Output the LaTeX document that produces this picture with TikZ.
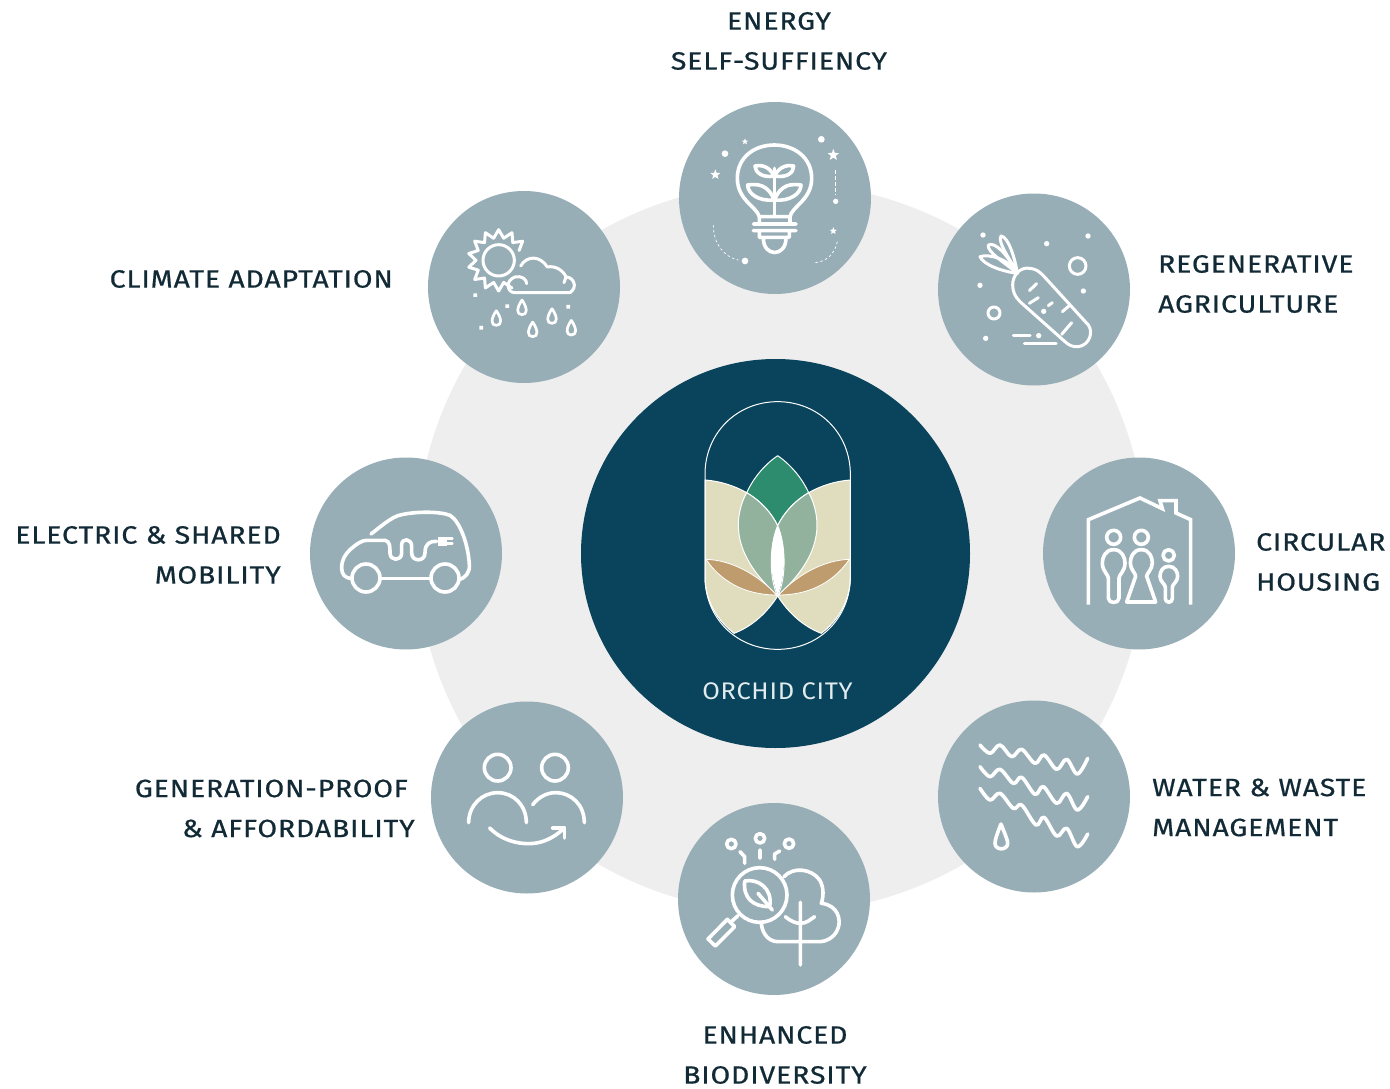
\documentclass[tikz,border=0pt]{standalone}
\usepackage{fontspec}
\usetikzlibrary{shapes.geometric}
\setmainfont{Fira Sans}
\newfontfamily\labfont[LetterSpace=3.5,FakeBold=0.7,FakeStretch=1.135]{Fira Sans}
\newfontfamily\cityfont[LetterSpace=3,FakeStretch=1.06]{Fira Sans}
\definecolor{ringgrey}{HTML}{EEEEEE}
\definecolor{deepblue}{HTML}{09435C}
\definecolor{satblue}{HTML}{98AEB7}
\definecolor{labelink}{HTML}{122A36}
\definecolor{petalbeige}{HTML}{E0DDBE}
\definecolor{petalsage}{HTML}{92B29E}
\definecolor{petalgreen}{HTML}{2D8C6E}
\definecolor{petaltan}{HTML}{BF9C6E}
\tikzset{
  sat/.style={circle,fill=satblue,minimum size=192pt,inner sep=0pt},
  ic/.style={draw=white,line width=3.6pt,line cap=round,line join=round},
  icthin/.style={draw=white,line width=2.7pt,line cap=round,line join=round},
  icmid/.style={draw=white,line width=3pt,line cap=round,line join=round},
  dashthin/.style={draw=white,line width=0.7pt,dash pattern=on 2.5pt off 2.5pt},
  blob/.style={fill=white},
  petal/.style={draw=white,line width=1pt,line join=round},
  lab/.style={inner sep=0pt,text=labelink,font=\labfont\fontsize{25}{40}\selectfont},
  starn/.style={star,star points=5,star point ratio=2.3,fill=white,inner sep=0pt,minimum size=#1},
}
\newcommand{\drawdrop}[2]{\draw[icthin] (#1,{#2-22}) .. controls ({#1-17},{#2+3}) and ({#1-17},{#2+22}) .. (#1,{#2+22}) .. controls ({#1+17},{#2+22}) and ({#1+17},{#2+3}) .. (#1,{#2-22});}
\begin{document}
\begin{tikzpicture}[x=1pt,y=-1pt]
\useasboundingbox (0,0) rectangle (1390,1089);
\node[circle,fill=ringgrey,minimum size=730pt,inner sep=0pt] (ring) at (781,548) {};
\node[circle,fill=deepblue,minimum size=389pt,inner sep=0pt] (hub) at (775.5,553.5) {};

% ---- logo
\begin{scope}[shift={(680,380)},scale=1/3]
  \path[petal,fill=petalbeige] (75,300) .. controls (120,303) and (165,318) .. (200,338) .. controls (165,400) and (165,520) .. (293,648) .. controls (260,700) and (215,740) .. (162,760) .. controls (110,720) and (75,660) .. (75,590) -- cycle;
  \path[petal,fill=petalbeige] (511,300) .. controls (466,303) and (421,318) .. (386,338) .. controls (421,400) and (421,520) .. (293,648) .. controls (326,700) and (371,740) .. (424,760) .. controls (476,720) and (511,660) .. (511,590) -- cycle;
  \path[petal,fill=petalgreen] (293,227) .. controls (245,260) and (215,305) .. (200,338) .. controls (245,365) and (275,400) .. (293,437) .. controls (311,400) and (341,365) .. (386,338) .. controls (371,305) and (341,260) .. (293,227) -- cycle;
  \path[petal,fill=petalsage] (200,338) .. controls (245,365) and (275,400) .. (293,437) .. controls (270,490) and (265,590) .. (293,648) .. controls (230,590) and (175,520) .. (175,435) .. controls (175,400) and (185,365) .. (200,338) -- cycle;
  \path[petal,fill=petalsage] (386,338) .. controls (341,365) and (311,400) .. (293,437) .. controls (316,490) and (321,590) .. (293,648) .. controls (356,590) and (411,520) .. (411,435) .. controls (411,400) and (401,365) .. (386,338) -- cycle;
  \path[fill=white] (293,437) .. controls (265,500) and (270,590) .. (293,645) .. controls (316,590) and (321,500) .. (293,437) -- cycle;
  \path[fill=petaltan,draw=white,line width=0.8pt] (78,538) .. controls (150,540) and (230,580) .. (290,645) .. controls (190,645) and (120,600) .. (78,538) -- cycle;
  \path[fill=petaltan,draw=white,line width=0.8pt] (508,538) .. controls (436,540) and (356,580) .. (296,645) .. controls (396,645) and (466,600) .. (508,538) -- cycle;
  \draw[petal] (75,300) -- (75,283) .. controls (75,160) and (170,65) .. (293,65) .. controls (416,65) and (511,160) .. (511,283) -- (511,590) .. controls (511,715) and (416,808) .. (293,808) .. controls (170,808) and (75,715) .. (75,590) -- cycle;
\end{scope}
\node[inner sep=0pt,text={rgb,255:red,226;green,235;blue,238},font=\cityfont\fontsize{24}{24}\selectfont] (city) at (777.5,691) {ORCHID CITY};

% ---- satellites
\node[sat] (energy) at (775,198) {};
\node[sat] (agri) at (1034,289.5) {};
\node[sat] (housing) at (1139,553.5) {};
\node[sat] (water) at (1034,796.5) {};
\node[sat] (bio) at (774,899) {};
\node[sat] (gen) at (527,797.5) {};
\node[sat] (mob) at (406,553.5) {};
\node[sat] (climate) at (524,287) {};

% ---- bulb
\begin{scope}[shift={(680,100)},scale=1/3]
  \draw[ic] (238,350) .. controls (230,320) and (172,300) .. (172,235) .. controls (172,170) and (225,135) .. (283,135) .. controls (340,135) and (395,170) .. (395,235) .. controls (395,300) and (335,320) .. (330,350) -- cycle;
  \draw[ic] (220,372) -- (348,372) (220,392) -- (348,392) (238,350) -- (238,372) (330,350) -- (330,372) (238,392) -- (238,412) -- (328,412) -- (328,392) (250,414) .. controls (250,472) and (318,472) .. (318,414);
  \draw[ic] (283,345) -- (283,205);
  \draw[ic] (283,228) .. controls (265,195) and (240,195) .. (225,198) .. controls (225,215) and (245,235) .. (283,228) .. controls (325,235) and (341,215) .. (341,198) .. controls (326,195) and (301,195) .. (283,228);
  \draw[ic] (283,300) .. controls (262,250) and (230,252) .. (203,255) .. controls (203,280) and (235,305) .. (283,300) .. controls (331,305) and (363,280) .. (363,255) .. controls (336,252) and (304,250) .. (283,300);
  \fill[blob] (135,161) circle[radius=10] (424,118) circle[radius=10] (467,304) circle[radius=8] (195,483) circle[radius=10];
  \node[starn=6.5pt] (s1) at (195,125) {};
  \node[starn=12pt] (s2) at (460,165) {};
  \node[starn=10.5pt] (s3) at (106,224) {};
  \node[starn=7.5pt] (s4) at (460,393) {};
  \draw[dashthin,line width=1pt,dash pattern=on 4pt off 2pt] (466,210) -- (466,285);
  \draw[dashthin] (100,375) .. controls (100,430) and (130,470) .. (175,480);
  \draw[dashthin] (472,425) .. controls (465,460) and (440,485) .. (405,488);
\end{scope}

% ---- carrot
\begin{scope}[shift={(940,195)},scale=1/3]
  \draw[icmid] (218,270) .. controls (218,240) and (240,215) .. (270,220) .. controls (290,222) and (300,232) .. (310,242) -- (445,390) .. controls (460,410) and (450,450) .. (415,455) .. controls (400,457) and (385,450) .. (375,440) -- (240,320) .. controls (225,305) and (218,290) .. (218,270);
  \draw[icmid] (268,287) -- (290,266) (268,325) -- (295,308) (325,332) -- (337,323) (367,350) -- (388,332) (365,418) -- (395,383);
  \draw[icmid] (232,235) .. controls (190,230) and (130,210) .. (120,185) .. controls (150,175) and (210,195) .. (232,235);
  \draw[icmid] (232,235) .. controls (190,200) and (140,170) .. (145,150) .. controls (165,140) and (200,175) .. (232,235);
  \draw[icmid] (232,235) .. controls (215,200) and (170,140) .. (183,123) .. controls (205,125) and (225,190) .. (232,235);
  \fill[blob] (129,120) circle[radius=8] (320,146) circle[radius=8] (444,123) circle[radius=8] (120,271) circle[radius=8] (430,288) circle[radius=8] (137,430) circle[radius=8] (311,349) circle[radius=8] (296,422) circle[radius=8];
  \draw[icmid] (413,213) circle[radius=25] (162,354) circle[radius=18];
  \draw[icmid] (220,422) -- (270,422) (253,447) -- (348,447);
\end{scope}

% ---- house
\begin{scope}[shift={(1045,458)},scale=1/3]
  \draw[draw=white,line width=3.6pt,line join=miter] (130,440) -- (130,185) -- (285,120) -- (352,152) -- (345,128) -- (393,128) -- (393,165) -- (437,185) -- (437,440);
  \draw[ic] (206,238) circle[radius=21] (289,238) circle[radius=21] (371,292) circle[radius=17];
  \draw[ic] (206,275) .. controls (180,275) and (172,300) .. (172,315) .. controls (172,340) and (190,350) .. (190,360) -- (190,420) .. controls (190,438) and (222,438) .. (222,420) -- (222,360) .. controls (222,350) and (240,340) .. (240,315) .. controls (240,300) and (232,275) .. (206,275);
  \draw[ic] (289,275) .. controls (263,275) and (256,300) .. (256,315) .. controls (256,335) and (272,345) .. (272,355) -- (245,432) -- (332,432) -- (305,355) .. controls (305,345) and (322,335) .. (322,315) .. controls (322,300) and (315,275) .. (289,275);
  \draw[ic] (371,325) .. controls (352,325) and (345,342) .. (345,355) .. controls (345,372) and (361,378) .. (361,388) -- (361,422) .. controls (361,436) and (382,436) .. (382,422) -- (382,388) .. controls (382,378) and (398,372) .. (398,355) .. controls (398,342) and (390,325) .. (371,325);
\end{scope}

% ---- water
\begin{scope}[shift={(940,700)},scale=1/3]
  \draw[ic] plot[smooth,tension=0.6] coordinates {(120,135) (150,160) (180,135) (215,170) (245,148) (285,190) (312,165) (350,208) (380,178) (412,222) (443,175)};
  \draw[ic] plot[smooth,tension=0.6] coordinates {(120,200) (150,230) (180,208) (220,250) (245,232) (285,283) (310,260) (350,310) (380,280) (412,330) (443,290)};
  \draw[ic] plot[smooth,tension=0.6] coordinates {(120,265) (150,300) (180,280) (220,325) (245,315) (288,375) (312,352) (350,408) (380,385) (412,440) (443,402)};
  \draw[ic] (183,372) .. controls (170,405) and (165,420) .. (165,430) .. controls (165,452) and (203,452) .. (203,430) .. controls (203,420) and (196,405) .. (183,372);
\end{scope}

% ---- biodiversity
\begin{scope}[shift={(678,805)},scale=1/3]
  \draw[ic] (245,270) circle[radius=82];
  \draw[ic] (180,332) -- (158,352);
  \draw[ic] (148,343) -- (170,365) -- (112,423) -- (90,402) -- cycle;
  \draw[ic] (200,228) .. controls (240,220) and (285,250) .. (275,305) .. controls (225,305) and (195,280) .. (200,228);
  \draw[ic] (240,265) -- (283,315);
  \draw[ic] (318,215) .. controls (345,185) and (400,190) .. (425,225) .. controls (440,250) and (435,280) .. (430,295) .. controls (480,300) and (490,345) .. (480,370) .. controls (470,400) and (440,410) .. (425,410) -- (300,410) .. controls (265,410) and (250,375) .. (250,352);
  \draw[ic] (367,292) -- (367,480) (322,335) .. controls (340,350) and (355,355) .. (367,355) .. controls (385,355) and (395,345) .. (410,335);
  \draw[ic] (160,117) circle[radius=14] (246,100) circle[radius=14] (333,116) circle[radius=14];
  \draw[ic] (186,140) -- (200,155) -- (200,175) (246,135) -- (246,160) (305,138) -- (290,147) -- (290,163);
\end{scope}

% ---- generations
\begin{scope}[shift={(432,702)},scale=1/3]
  \draw[ic] (197,197) circle[radius=40] (369,197) circle[radius=40];
  \draw[ic] (110,362) .. controls (110,310) and (150,272) .. (197,272) .. controls (245,272) and (283,310) .. (283,362);
  \draw[ic] (302,308) .. controls (320,285) and (345,272) .. (370,272) .. controls (420,272) and (457,310) .. (457,362);
  \draw[ic] (173,378) .. controls (210,415) and (255,425) .. (290,425) .. controls (330,425) and (365,408) .. (395,380);
  \draw[ic] (362,378) -- (398,378) -- (398,408);
\end{scope}

% ---- car
\begin{scope}[shift={(310,458)},scale=1/3]
  \draw[ic] (183,228) .. controls (210,208) and (245,175) .. (275,170) .. controls (320,160) and (390,160) .. (420,172) .. controls (450,190) and (475,260) .. (478,320) .. controls (480,345) and (465,360) .. (447,365);
  \draw[ic] (363,362) -- (212,362);
  \draw[ic] (125,362) .. controls (105,360) and (95,350) .. (95,330) .. controls (95,305) and (105,290) .. (120,275) .. controls (140,258) and (155,247) .. (170,247) -- (225,247) .. controls (240,250) and (240,265) .. (240,285) .. controls (240,310) and (275,310) .. (275,285) -- (275,260) .. controls (275,240) and (305,240) .. (305,265) -- (305,285) .. controls (305,312) and (345,312) .. (345,285) .. controls (345,255) and (360,250) .. (380,250);
  \draw[ic] (168,360) circle[radius=42] (405,360) circle[radius=42];
  \fill[blob] (385,236) rectangle (412,264);
  \draw[icthin] (412,241) -- (427,241) (412,257) -- (427,257);
\end{scope}

% ---- climate
\begin{scope}[shift={(430,192)},scale=1/3]
  \draw[icmid] (206,205) circle[radius=47];
  \draw[icmid] plot[samples=22,domain=64.2857:334.2857,variable=\t] ({206+(80-12*cos(14*\t))*cos(\t)},{205+(80-12*cos(14*\t))*sin(\t)});
  \draw[icmid] (272,222) .. controls (290,190) and (330,190) .. (352,225) .. controls (375,220) and (400,235) .. (408,255) .. controls (430,255) and (445,285) .. (420,302) -- (255,302) .. controls (230,302) and (225,265) .. (255,255) .. controls (275,250) and (290,262) .. (290,275);
  \draw[icmid] (402,272) -- (408,255);
  \fill[blob] (130,304) rectangle (141,315) (226,337) rectangle (237,348) (409,339) rectangle (420,350) (148,402) rectangle (159,413);
  \drawdrop{199}{378}
  \drawdrop{276}{346}
  \drawdrop{366}{372}
  \drawdrop{308}{412}
  \drawdrop{424}{407}
\end{scope}

% ---- labels
\node[lab,align=center] (tenergy) at (779,41) {ENERGY\\SELF-SUFFIENCY};
\node[lab,align=left,anchor=west] (tagri) at (1158,284) {REGENERATIVE\\AGRICULTURE};
\node[lab,align=left,anchor=west] (thousing) at (1256,562) {CIRCULAR\\HOUSING};
\node[lab,align=left,anchor=west] (twater) at (1152,807.5) {WATER \& WASTE\\MANAGEMENT};
\node[lab,align=center] (tbio) at (775,1055) {ENHANCED\\BIODIVERSITY};
\node[lab,align=right,anchor=east] (tgen) at (415,808.5) {GENERATION-PROOF\hspace*{7pt}\\\& AFFORDABILITY};
\node[lab,align=right,anchor=east] (tmob) at (281,555) {ELECTRIC \& SHARED\\MOBILITY};
\node[lab,anchor=east] (tclimate) at (393,279) {CLIMATE ADAPTATION};
\end{tikzpicture}
\end{document}
